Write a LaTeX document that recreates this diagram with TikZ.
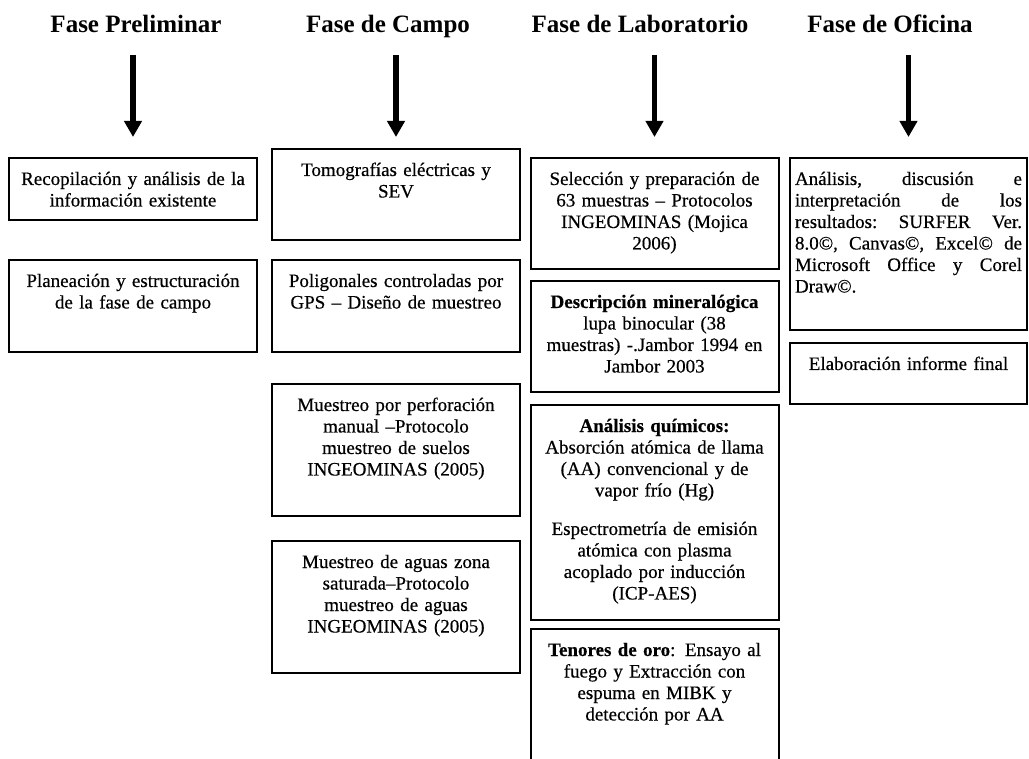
\documentclass[tikz,border=0pt]{standalone}
\usepackage{fontspec}
\setmainfont{Liberation Serif}
\newfontfamily\heavyserif[FakeBold=0.5]{Liberation Serif}
\usepackage{tikz}
\usetikzlibrary{arrows.meta, calc, positioning}

\begin{document}
\begin{tikzpicture}[
        x=1pt, y=1pt,
        phase/.style = {font=\fontsize{25pt}{28pt}\selectfont\bfseries, anchor=base, inner sep=0pt},
        stepbox/.style = {draw, line width=2pt, anchor=north, outer sep=0pt, inner xsep=5pt, inner ysep=0pt, text width=238pt, align=center, text height=27pt, font=\heavyserif\fontsize{19pt}{21.5pt}\selectfont},
        widebox/.style = {stepbox, text width=227pt, align=left},
        line/.style = {draw, line width=5.5pt, -{Triangle[width=17pt, length=16pt]}}
    ]
        \useasboundingbox (0,0) rectangle (1029,-759);

        % Phase titles
        \node (prelim_hdr) [phase] at (136,-33) {Fase Preliminar};
        \node (campo_hdr) [phase] at (388,-33) {Fase de Campo};
        \node (lab_hdr) [phase] at (640,-33) {Fase de Laboratorio};
        \node (ofic_hdr) [phase] at (890,-33) {Fase de Oficina};

        % Fase preliminar
        \node (recop_box) [stepbox, text depth=35pt] at (133,-158) {Recopilación y análisis de la\\información existente};
        \node (planea_box) [stepbox, text depth=65pt, below=40pt of recop_box] {Planeación y estructuración\\de la fase de campo};

        % Fase de campo
        \node (tomo_box) [stepbox, text depth=64pt] at (396,-149) {Tomografías eléctricas y\\SEV};
        \node (polig_box) [stepbox, text depth=65pt, below=20pt of tomo_box] {Poligonales controladas por\\GPS – Diseño de muestreo};
        \node (perfor_box) [stepbox, text depth=105pt, below=32pt of polig_box] {Muestreo por perforación\\manual –Protocolo\\muestreo de suelos\\INGEOMINAS (2005)};
        \node (aguas_box) [stepbox, text depth=105pt, below=25pt of perfor_box] {Muestreo de aguas zona\\saturada–Protocolo\\muestreo de aguas\\INGEOMINAS (2005)};

        % Fase de laboratorio
        \node (selec_box) [stepbox, text depth=84pt] at (654.5,-158) {Selección y preparación de\\63 muestras – Protocolos\\INGEOMINAS (Mojica\\2006)};
        \node (descr_box) [stepbox, text depth=84pt, below=12pt of selec_box] {\textbf{Descripción mineralógica}\\lupa binocular (38\\muestras) -.Jambor 1994 en\\Jambor 2003};
        \node (quim_box) [stepbox, text depth=188pt, below=13pt of descr_box] {\textbf{Análisis químicos:}\\Absorción atómica de llama\\(AA) convencional y de\\vapor frío (Hg)\\[17pt]Espectrometría de emisión\\atómica con plasma\\acoplado por inducción\\(ICP-AES)};
        \node (tenor_box) [stepbox, text depth=105pt, below=9pt of quim_box] {\textbf{Tenores de oro}: Ensayo al\\fuego y Extracción con\\espuma en MIBK y\\detección por AA};

        % Fase de oficina
        \node (anali_box) [widebox, text depth=145pt] at (908.5,-158) {Análisis,\hfill discusión\hfill e\\interpretación\hfill de\hfill los\\resultados:\hfill SURFER\hfill Ver.\\8.0©,\hfill Canvas©,\hfill Excel©\hfill de\\Microsoft\hfill Office\hfill y\hfill Corel\\Draw©.};
        \node (elab_box) [stepbox, text width=227pt, text depth=34pt, below=13pt of anali_box] {Elaboración informe final};

        % Arrows
        \draw [line, shorten <=22pt, shorten >=21pt] (prelim_hdr.base -| recop_box.north) -- (recop_box.north);
        \draw [line, shorten <=22pt, shorten >=12pt] (campo_hdr.base -| tomo_box.north) -- (tomo_box.north);
        \draw [line, shorten <=22pt, shorten >=21pt] (lab_hdr.base -| selec_box.north) -- (selec_box.north);
        \draw [line, shorten <=22pt, shorten >=21pt] (ofic_hdr.base -| anali_box.north) -- (anali_box.north);

    \end{tikzpicture}
\end{document}
